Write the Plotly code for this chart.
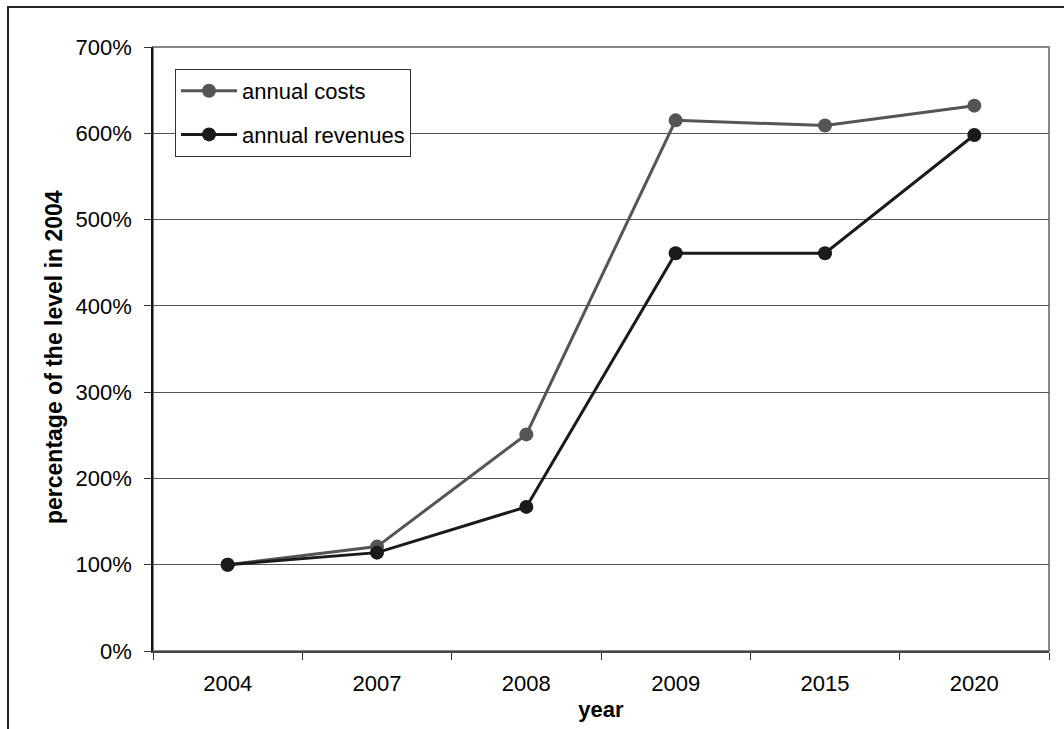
import plotly.graph_objects as go

# Categories and series (percent of the 2004 level)
years = ["2004", "2007", "2008", "2009", "2015", "2020"]
annual_costs = [100, 121, 251, 615, 609, 632]
annual_revenues = [100, 114, 167, 461, 461, 598]
y_ticks = [0, 100, 200, 300, 400, 500, 600, 700]

FONT = "Liberation Sans, Arial, sans-serif"
FS = 22
W, H = 1064, 729
ML, MR, MT, MB = 153, 15, 47, 78
PW = W - ML - MR
PH = H - MT - MB

fig = go.Figure()
fig.add_trace(go.Scatter(
    x=years, y=annual_costs, name="annual costs", mode="lines+markers",
    line=dict(color="#555555", width=3),
    marker=dict(color="#555555", size=14),
    legendgroup="a",
))
fig.add_trace(go.Scatter(
    x=years, y=annual_revenues, name="annual revenues", mode="lines+markers",
    line=dict(color="#1a1a1a", width=3),
    marker=dict(color="#1a1a1a", size=14),
    legendgroup="b",
))

# Outer chart frame (runs off the right and bottom of the page)
fig.add_shape(type="rect", xref="paper", yref="paper",
              x0=(8 - ML) / PW, x1=(W + 20 - ML) / PW,
              y0=-(H + 20 - MT - PH) / PH, y1=1 + (MT - 7) / PH,
              line=dict(color="#222222", width=2), layer="below")
# Plot area frame (top and right edges in gray)
fig.add_shape(type="rect", xref="paper", yref="paper",
              x0=0, x1=1, y0=0, y1=1,
              line=dict(color="#888888", width=2), layer="below")

# Vertical value-axis title
fig.add_annotation(
    text="<b>percentage of the level in 2004</b>", textangle=-90,
    xref="paper", yref="paper",
    x=(54 - ML) / PW, y=1 - (357 - MT) / PH,
    xanchor="center", yanchor="middle", showarrow=False,
    font=dict(family=FONT, size=23, color="black"),
)

fig.update_layout(
    width=W, height=H,
    margin=dict(l=ML, r=MR, t=MT, b=MB),
    paper_bgcolor="white", plot_bgcolor="white",
    font=dict(family=FONT, size=FS, color="black"),
    showlegend=True,
    legend=dict(
        x=(175 - ML) / PW, y=1 - (69 - MT) / PH,
        xanchor="left", yanchor="top",
        bordercolor="#333333", borderwidth=1, bgcolor="white",
        font=dict(family=FONT, size=FS, color="black"),
        traceorder="grouped", tracegroupgap=12,
        itemwidth=56,
    ),
    xaxis=dict(
        type="category", categoryorder="array", categoryarray=years,
        tickson="boundaries", ticks="outside", ticklen=7, tickwidth=1,
        tickcolor="#333333", showgrid=False,
        showline=True, linecolor="#444444", linewidth=2,
        tickfont=dict(family=FONT, size=FS, color="black"),
        ticklabelstandoff=12,
        title=dict(text="<b>year</b>", font=dict(family=FONT, size=FS, color="black"),
                   standoff=6),
        range=[-0.5, 5.5], automargin=False,
    ),
    yaxis=dict(
        range=[0, 700], tickvals=y_ticks,
        ticktext=[f"{v}%" for v in y_ticks],
        ticks="outside", ticklen=7, tickwidth=1, tickcolor="#333333",
        showgrid=True, gridcolor="#555555", gridwidth=1,
        showline=True, linecolor="#111111", linewidth=1.5,
        zeroline=False,
        tickfont=dict(family=FONT, size=FS, color="black"),
        ticklabelstandoff=8,
        automargin=False,
    ),
)

fig.write_html("out.html")
